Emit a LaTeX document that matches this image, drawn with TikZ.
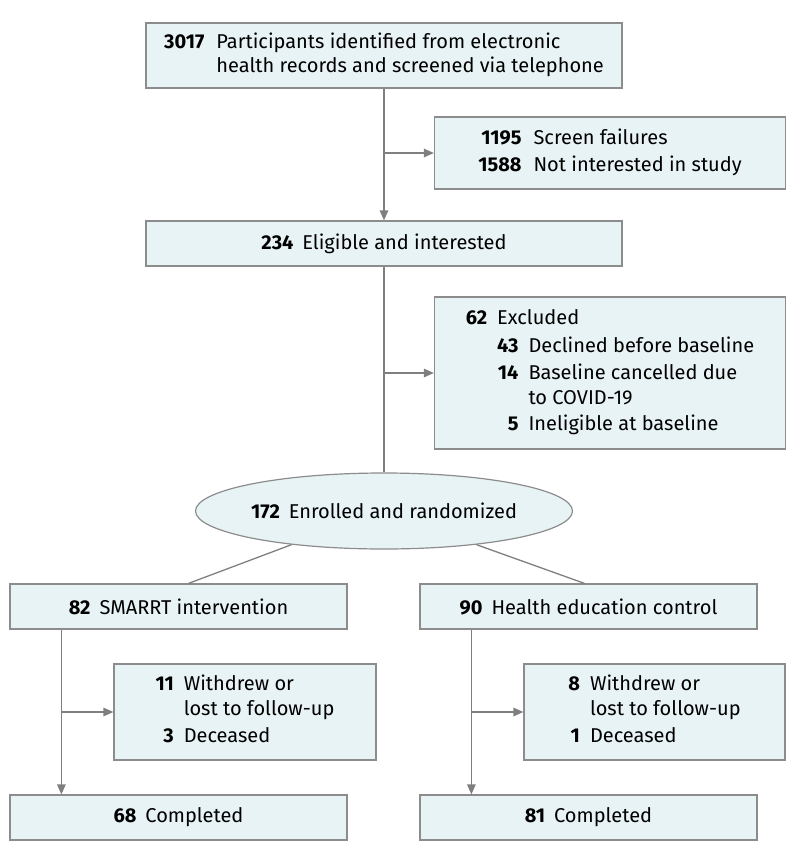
\documentclass[tikz,border=0pt]{standalone}
\usepackage{fontspec}
\setmainfont{Fira Sans}
\usetikzlibrary{arrows.meta}
\usetikzlibrary{shapes.geometric}
\definecolor{boxfill}{HTML}{E8F3F5}
\definecolor{boxline}{HTML}{8C8C8C}
\definecolor{flowline}{HTML}{7F7F7F}
\tikzset{
 stage/.style={draw=boxline, fill=boxfill, line width=1.2pt, rectangle, inner sep=0pt,
  font=\fontsize{20}{24.5}\selectfont, align=center},
 flow/.style={draw=flowline, line width=1.3pt},
 into/.style={flow, -{Triangle[length=10pt,width=8.5pt]}}
}

\begin{document}
\begin{tikzpicture}[x=1pt,y=-1pt]
\useasboundingbox (0,0) rectangle (794,860);
% top stage
\node[stage, minimum width=476pt, minimum height=65pt] (screened) at (384,55.5)
 {\begin{tabular}{@{}r@{\hspace{12pt}}l@{}}\textbf{3017} & Participants identified from electronic\\ & health records and screened via telephone\end{tabular}};
\node[stage, minimum width=351pt, minimum height=72pt] (failed) at (610,153)
 {\begin{tabular}{@{}r@{\hspace{12pt}}l@{}}\textbf{1195} & Screen failures\\[3pt] \textbf{1588} & Not interested in study\end{tabular}};
\node[stage, minimum width=476pt, minimum height=45pt] (eligible) at (384,243.5)
 {\textbf{234}\hspace{9pt}Eligible and interested};
\node[stage, minimum width=351pt, minimum height=152pt] (excluded) at (610,373)
 {\begin{tabular}{@{}r@{\hspace{10pt}}r@{\hspace{10pt}}l@{}}\textbf{62} & \multicolumn{2}{@{}l@{}}{Excluded}\\[3pt]
  & \textbf{43} & Declined before baseline\\[3pt]
  & \textbf{14} & Baseline cancelled due\\
  & & to COVID-19\\[2pt]
  & \textbf{5} & Ineligible at baseline\end{tabular}};
\node[stage, ellipse, minimum width=377pt, minimum height=76pt] (randomized) at (384,511)
 {\textbf{172}\hspace{9pt}Enrolled and randomized};
% arms
\node[stage, minimum width=337pt, minimum height=45pt] (smarrt) at (178.5,606.5)
 {\textbf{82}\hspace{9pt}SMARRT intervention};
\node[stage, minimum width=337pt, minimum height=45pt] (control) at (588.5,606.5)
 {\textbf{90}\hspace{9pt}Health education control};
\node[stage, minimum width=262pt, minimum height=96pt] (lostA) at (245,712)
 {\begin{tabular}{@{}r@{\hspace{10pt}}l@{}}\textbf{11} & Withdrew or\\ & lost to follow-up\\[3pt] \textbf{3} & Deceased\end{tabular}};
\node[stage, minimum width=261pt, minimum height=96pt] (lostB) at (654.5,712)
 {\begin{tabular}{@{}r@{\hspace{10pt}}l@{}}\textbf{8} & Withdrew or\\ & lost to follow-up\\[3pt] \textbf{1} & Deceased\end{tabular}};
\node[stage, minimum width=337pt, minimum height=45pt] (doneA) at (178.5,817.5)
 {\textbf{68}\hspace{9pt}Completed};
\node[stage, minimum width=337pt, minimum height=45pt] (doneB) at (588.5,817.5)
 {\textbf{81}\hspace{9pt}Completed};
% connectors
\draw[into] (screened.south) -- (eligible.north);
\draw[into] (screened.south |- failed.west) -- (failed.west);
\draw[flow] (eligible.south) -- (randomized.north);
\draw[into] (eligible.south |- excluded.west) -- (excluded.west);
\draw[flow] (randomized.200) -- ([xshift=10pt]smarrt.north);
\draw[flow] (randomized.340) -- ([xshift=-4pt]control.north);
\coordinate (armA) at ([xshift=52pt]smarrt.south west);
\coordinate (armB) at ([xshift=52pt]control.south west);
\draw[into] (armA) -- (armA |- doneA.north);
\draw[into] (armA |- lostA.west) -- (lostA.west);
\draw[into] (armB) -- (armB |- doneB.north);
\draw[into] (armB |- lostB.west) -- (lostB.west);
\end{tikzpicture}
\end{document}
